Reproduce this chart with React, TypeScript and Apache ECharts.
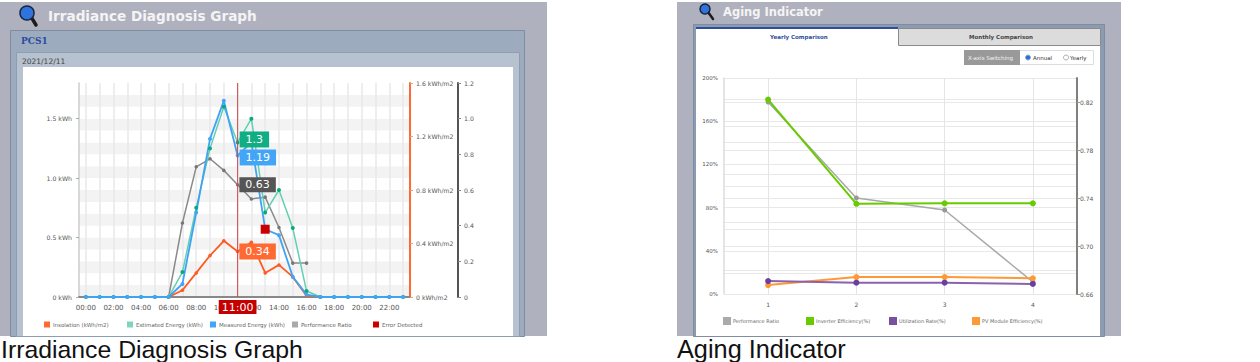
import React, { useEffect, useRef } from "react";
import * as echarts from "echarts";

const hours = ["00:00","01:00","02:00","03:00","04:00","05:00","06:00","07:00","08:00","09:00","10:00","11:00","12:00","13:00","14:00","15:00","16:00","17:00","18:00","19:00","20:00","21:00","22:00","23:00"];
const insolation = [null,null,null,null,null,null,0,0.05,0.18,0.31,0.42,0.34,0.41,0.18,0.24,0.15,0.01,0,null,null,null,null,null,null];
const estimated = [0,0,0,0,0,0,0,0.21,0.75,1.25,1.6,1.3,1.5,0.71,0.9,0.58,0.05,0,0,0,0,0,0,0];
const measured = [0,0,0,0,0,0,0,0.11,0.71,1.33,1.65,1.19,1.3,0.57,0.52,0.17,0.02,0,0,0,0,0,0,0];
const performance = [null,null,null,null,null,null,0,0.415,0.73,0.775,0.71,0.63,0.55,0.56,0.39,0.19,0.19,null,null,null,null,null,null,null];
const errors = [null,null,null,null,null,null,null,null,null,null,null,null,null,0.57,null,null,null,null,null,null,null,null,null,null];
const cursorHour = "11:00";
const cursorTop = 1.8;

const years = ["1","2","3","4"];
const agingRatio = [0.82,0.74,0.73,0.67];
const inverterEff = [180,83.5,84,84];
const utilization = [12,10.5,10.5,9.3];
const moduleEff = [8.3,15.7,15.7,14.5];

const sans = "DejaVu Sans";
const bg = "#b0b1bf";

function tagged(values: (number | null)[], color: string, dy: number, pad: number[]) {
  const idx = hours.indexOf(cursorHour);
  return values.map((v, i) =>
    i === idx
      ? {
          value: v,
          label: {
            show: true, position: "right", distance: 0, offset: [0, dy],
            formatter: String(v), backgroundColor: color, color: "#fff",
            fontFamily: sans, fontSize: 11, padding: pad,
          },
        }
      : v
  );
}

function rect(x: number, y: number, w: number, h: number, fill: string, stroke?: string) {
  return { type: "rect", z: -10, silent: true, shape: { x, y, width: w, height: h }, style: { fill, stroke: stroke || undefined, lineWidth: stroke ? 1 : 0 } };
}
function txt(x: number, y: number, text: string, fontSize: number, fill: string, extra: any = {}) {
  return { type: "text", z: -9, silent: true, x, y, style: { text, fontSize, fill, fontFamily: sans, verticalAlign: "middle", align: "left", ...extra } };
}
function lens(cx: number, cy: number, r: number, ex: number, ey: number) {
  return [
    { type: "line", z: -9, shape: { x1: cx + r * 0.6, y1: cy + r * 0.6, x2: ex, y2: ey }, style: { stroke: "#1c1c1c", lineWidth: r * 0.5, lineCap: "round" } },
    { type: "circle", z: -9, shape: { cx, cy, r }, style: { fill: "#2f74dc", stroke: "#16243c", lineWidth: 1.5 } },
  ];
}
function legendAt(left: number, top: number, name: string, color: string, size: number, fontSize: number, gapFix: number) {
  return {
    left, top, padding: 0, itemWidth: size, itemHeight: size, icon: "rect", selectedMode: false, itemGap: 0,
    data: [{ name, itemStyle: { color } }],
    textStyle: { fontSize, color: "#666", fontFamily: sans, padding: [0, 0, 0, gapFix] },
  };
}

const titleShadow = { shadowColor: "#333", shadowBlur: 2, shadowOffsetX: 1, shadowOffsetY: 1 };

const graphicElements = [
  // left panel
  rect(0, 2, 547, 334, bg),
  rect(10.5, 30.5, 514, 306, "#9dabbf", "#7f8da2"),
  rect(16.5, 52.5, 503, 284, "#b6c2cf", "#8f9db0"),
  rect(23, 67, 490, 269, "#ffffff"),
  ...lens(27, 13, 7, 36, 25),
  txt(48, 16, "Irradiance Diagnosis Graph", 13.6, "#f4f4f4", { fontWeight: "bold", ...titleShadow }),
  txt(21, 41, "PCS1", 9, "#2a4da0", { fontWeight: "bold", fontFamily: "DejaVu Serif" }),
  txt(22, 61, "2021/12/11", 7.5, "#444"),
  // right panel
  rect(677, 2, 444, 334, bg),
  rect(693.5, 24.5, 411, 312, "#8d9bb0", "#7f8da2"),
  rect(696, 28, 404, 308, "#ffffff"),
  rect(696, 27, 202, 2, "#2f4da0"),
  rect(898.5, 28.5, 202, 17, "#dcdcdc", "#8a8a8a"),
  ...lens(705, 9, 5, 713, 19),
  txt(723, 12, "Aging Indicator", 11.5, "#f4f4f4", { fontWeight: "bold", ...titleShadow }),
  txt(770, 37, "Yearly Comparison", 5.5, "#2f4da0", { fontWeight: "bold" }),
  txt(969, 37, "Monthly Comparison", 5.5, "#444", { fontWeight: "bold" }),
  rect(964.5, 50.5, 129, 14, "#ffffff", "#ddd"),
  rect(964, 50, 56, 15, "#999999"),
  txt(968, 57.5, "X-axis Switching", 5.5, "#f4f4f4"),
  { type: "circle", z: -9, shape: { cx: 1028, cy: 57.5, r: 2.5 }, style: { fill: "#2a6fe0", stroke: "#9ab", lineWidth: 1 } },
  txt(1033, 57.5, "Annual", 5.5, "#333"),
  { type: "circle", z: -9, shape: { cx: 1066, cy: 57.5, r: 2.5 }, style: { fill: "#fff", stroke: "#999", lineWidth: 0.8 } },
  txt(1070, 57.5, "Yearly", 5.5, "#333"),
  // captions
  txt(1, 349, "Irradiance Diagnosis Graph", 24.8, "#111", { fontFamily: "Liberation Sans" }),
  txt(677, 349, "Aging Indicator", 25.3, "#111", { fontFamily: "Liberation Sans" }),
];

const axisText = { fontFamily: sans, fontSize: 7, color: "#555" };
const sideText = { fontFamily: sans, fontSize: 6.2, color: "#555" };
const hiddenValueX = (gridIndex: number) => ({ type: "value", gridIndex, show: false, min: 0, max: 1, splitLine: { show: false } });
const hiddenLinesY = (gridIndex: number) => ({
  type: "value", gridIndex, min: 0, max: 4, interval: 1,
  axisLine: { show: false }, axisTick: { show: false }, axisLabel: { show: false },
  splitLine: { show: true, lineStyle: { color: "#e8e8e8", width: 1 } },
});

function lineSeries(name: string, data: any[], xAxisIndex: number, yAxisIndex: number, line: string, item: string, width: number, size: number, extra: any = {}) {
  return {
    name, type: "line", data, xAxisIndex, yAxisIndex, symbol: "circle", symbolSize: size, showSymbol: true,
    lineStyle: { color: line, width }, itemStyle: { color: item }, connectNulls: false, ...extra,
  };
}

const option: any = {
  animation: false,
  graphic: { elements: graphicElements },
  grid: [
    { left: 79, top: 83, width: 331, height: 214 },
    { left: 724, top: 78, width: 353, height: 216 },
    { left: 724, top: 78, width: 353, height: 192 },
    { left: 724, top: 99, width: 353, height: 174 },
  ],
  xAxis: [
    {
      type: "category", gridIndex: 0, data: hours, boundaryGap: true,
      axisLine: { lineStyle: { color: "#888", width: 2 } },
      axisTick: { alignWithLabel: true, interval: 1, length: 3, lineStyle: { color: "#888" } },
      axisLabel: { ...axisText, interval: 1, margin: 7 },
      splitLine: { show: true, alignWithLabel: true, interval: 0, lineStyle: { color: "#e9e9e9", width: 1.5 } },
    },
    {
      type: "category", gridIndex: 1, data: years, boundaryGap: true,
      axisLine: { show: false }, axisTick: { show: false },
      axisLabel: { fontFamily: sans, fontSize: 6, color: "#555", margin: 7 },
      splitLine: { show: true, alignWithLabel: true, lineStyle: { color: "#e4e4e4", width: 1 } },
    },
    hiddenValueX(2),
    hiddenValueX(3),
  ],
  yAxis: [
    {
      type: "value", gridIndex: 0, min: 0, max: 1.8, interval: 0.5,
      axisLine: { show: true, lineStyle: { color: "#ccc", width: 1.5 } },
      axisTick: { show: true, length: 3, lineStyle: { color: "#aaa" } },
      axisLabel: { ...sideText, showMaxLabel: false, formatter: (v: number) => (v === 0 ? "0 kWh" : `${v.toFixed(1)} kWh`), margin: 7 },
      splitLine: { show: false },
    },
    {
      type: "value", gridIndex: 0, position: "right", min: 0, max: 1.6, interval: 0.4,
      axisLine: { show: true, onZero: false, lineStyle: { color: "#ff6a33", width: 2 } },
      axisTick: { show: true, length: 3, lineStyle: { color: "#ff9a77" } },
      axisLabel: { ...sideText, formatter: (v: number) => (v === 0 ? "0 kWh/m2" : `${v.toFixed(1)} kWh/m2`), margin: 6 },
      splitLine: { show: false },
    },
    {
      type: "value", gridIndex: 0, position: "right", offset: 48, min: 0, max: 1.2, interval: 0.2,
      axisLine: { show: true, onZero: false, lineStyle: { color: "#555", width: 2 } },
      axisTick: { show: true, length: 3, lineStyle: { color: "#888" } },
      axisLabel: { ...sideText, formatter: (v: number) => (v === 0 ? "0" : v.toFixed(1)), margin: 6 },
      splitLine: { show: false },
    },
    {
      type: "value", gridIndex: 1, min: 0, max: 200, interval: 40,
      axisLine: { show: true, lineStyle: { color: "#ddd", width: 1.5 } },
      axisTick: { show: false },
      axisLabel: { fontFamily: sans, fontSize: 5.5, color: "#555", formatter: "{value}%", margin: 6 },
      splitLine: { show: true, lineStyle: { color: "#e8e8e8", width: 1 } },
    },
    {
      type: "value", gridIndex: 1, position: "right", min: 0.66, max: 0.84, interval: 0.04,
      axisLine: { show: true, onZero: false, lineStyle: { color: "#808080", width: 2 } },
      axisTick: { show: true, length: 3, lineStyle: { color: "#999" } },
      axisLabel: { fontFamily: sans, fontSize: 6, color: "#555", margin: 3, showMaxLabel: false, formatter: (v: number) => v.toFixed(2) },
      splitLine: { show: true, lineStyle: { color: "#e8e8e8", width: 1 } },
    },
    hiddenLinesY(2),
    hiddenLinesY(3),
    {
      type: "value", gridIndex: 0, min: 0, max: 18, interval: 1,
      axisLine: { show: false }, axisTick: { show: false }, axisLabel: { show: false }, splitLine: { show: false },
      splitArea: { show: true, areaStyle: { color: ["#f3f3f3", "#ffffff"] } },
    },
  ],
  legend: [
    legendAt(44, 321.5, "Insolation (kWh/m2)", "#ff6a33", 6, 5.5, -2),
    legendAt(127, 321.5, "Estimated Energy (kWh)", "#7fd4bd", 6, 5.5, -2),
    legendAt(210, 321.5, "Measured Energy (kWh)", "#42a5f5", 6, 5.5, -2),
    legendAt(292, 321.5, "Performance Ratio", "#aaaaaa", 6, 5.5, -2),
    legendAt(373, 321.5, "Error Detected", "#cc0000", 6, 5.5, -2),
    legendAt(723, 317, "Performance Ratio", "#aaaaaa", 8, 5, -3),
    legendAt(806, 317, "Inverter Efficiency(%)", "#66cc00", 8, 5, -3),
    legendAt(889, 317, "Utilization Rate(%)", "#7a4f9e", 8, 5, -3),
    legendAt(972, 317, "PV Module Efficiency(%)", "#ff9933", 8, 5, -3),
  ],
  series: [
    lineSeries("Performance Ratio", tagged(performance, "#555555", 0, [2, 6, 2, 6]), 0, 2, "#8a8a8a", "#777777", 1.5, 3.5),
    lineSeries("Insolation (kWh/m2)", tagged(insolation, "#ff6a33", 0, [2.5, 6, 2.5, 6]), 0, 1, "#ff5a1f", "#ff5a1f", 1.8, 3.5),
    lineSeries("Estimated Energy (kWh)", tagged(estimated, "#10ae82", -3, [2.5, 6, 2.5, 6]), 0, 0, "#62cfb2", "#0aa87c", 1.5, 4),
    lineSeries("Measured Energy (kWh)", tagged(measured, "#42a5f5", 2, [2.5, 6, 2.5, 6]), 0, 0, "#3fa2f2", "#42a5f5", 1.8, 4),
    {
      name: "cursor", type: "bar", xAxisIndex: 0, yAxisIndex: 0, barWidth: 1, silent: true, z: 6,
      data: hours.map((h) =>
        h === cursorHour
          ? {
              value: cursorTop,
              label: {
                show: true, position: "bottom", distance: 3, formatter: cursorHour,
                color: "#fff", backgroundColor: "#c40000", fontFamily: sans, fontSize: 11, padding: [2, 3, 1, 3],
              },
            }
          : null
      ),
      itemStyle: { color: "#cf4a4e" },
    },
    { name: "Error Detected", type: "line", data: errors, xAxisIndex: 0, yAxisIndex: 0, symbol: "rect", symbolSize: 9, lineStyle: { width: 0 }, itemStyle: { color: "#cc0000" }, z: 5 },
    lineSeries("Performance Ratio", agingRatio, 1, 4, "#a8a8a8", "#999999", 1.5, 5),
    lineSeries("Inverter Efficiency(%)", inverterEff, 1, 3, "#66cc00", "#66cc00", 2, 6),
    lineSeries("PV Module Efficiency(%)", moduleEff, 1, 3, "#ff9933", "#ff9933", 2, 6),
    lineSeries("Utilization Rate(%)", utilization, 1, 3, "#8a62ae", "#6b3fa0", 2, 6),
  ],
};

export default function App() {
  const ref = useRef<HTMLDivElement>(null);
  useEffect(() => {
    document.body.style.margin = "0";
    const chart = echarts.init(ref.current!, null, { renderer: "svg" });
    chart.setOption(option);
    return () => chart.dispose();
  }, []);
  return <div ref={ref} style={{ width: 1260, height: 362 }} />;
}
